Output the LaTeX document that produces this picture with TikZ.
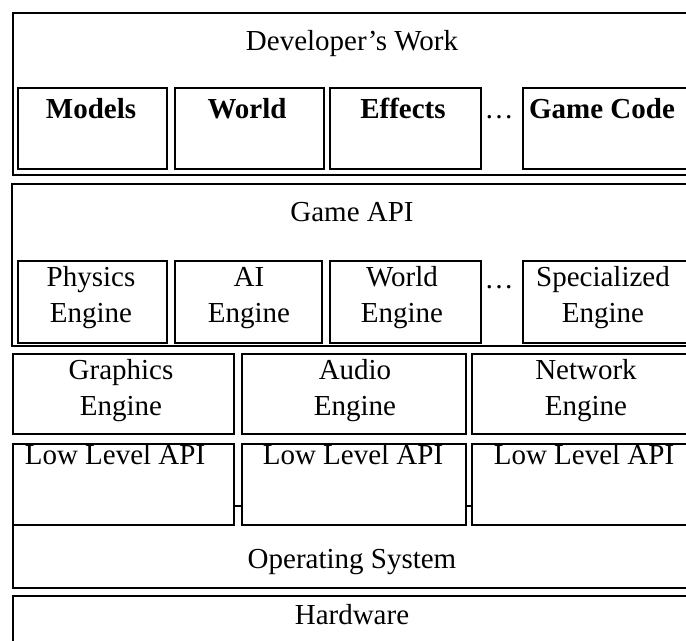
\documentclass[tikz,border=0pt]{standalone}
\usepackage{fontspec}
\setmainfont{Liberation Serif}
\usepackage{tikz}
\usetikzlibrary{positioning}

\begin{document}
\begin{tikzpicture}[
    x=0.02cm, y=-0.02cm,
    every node/.style={font=\fontsize{16.5}{20.5}\selectfont},
    box/.style={draw, line width=0.9pt, fill=white, inner sep=0pt, anchor=north west},
    lbl/.style={anchor=base, inner sep=0pt, align=center}
]
\useasboundingbox (0,0) rectangle (686,641);
\clip (0,0) rectangle (686,641);

% Developer layer
\node[box, minimum width=14cm, minimum height=3.24cm] (dev) at (12,12) {};
\node[lbl] (devtxt) at (352,51) {Developer's Work};
\node[box, minimum width=2.98cm, minimum height=1.62cm] (models) at (17,87) {};
\node[box, minimum width=2.98cm, minimum height=1.62cm] (world) at (174,87) {};
\node[box, minimum width=3.02cm, minimum height=1.62cm] (effects) at (329,87) {};
\node[box, minimum width=3.6cm, minimum height=1.62cm] (gamecode) at (522,87) {};
\node[lbl, font=\fontsize{16.5}{20.5}\selectfont\bfseries] (modelstxt) at (91,119) {Models};
\node[lbl, font=\fontsize{16.5}{20.5}\selectfont\bfseries] (worldtxt) at (247,119) {World};
\node[lbl, font=\fontsize{16.5}{20.5}\selectfont\bfseries] (effectstxt) at (403,119) {Effects};
\node[lbl] (dotsa) at (499,119) {\dots};
\node[lbl, font=\fontsize{16.5}{20.5}\selectfont\bfseries] (gamecodetxt) at (602,119) {Game Code};

% Game API layer (base anchor sits on the last line)
\node[box, minimum width=14cm, minimum height=3.24cm] (api) at (11,183) {};
\node[lbl] (apitxt) at (352,222) {Game API};
\node[box, minimum width=2.98cm, minimum height=1.64cm] (physics) at (17,260) {};
\node[box, minimum width=2.94cm, minimum height=1.64cm] (ai) at (174,260) {};
\node[box, minimum width=3.02cm, minimum height=1.64cm] (worldeng) at (329,260) {};
\node[box, minimum width=3.6cm, minimum height=1.64cm] (special) at (522,260) {};
\node[lbl] (physicstxt) at (91,323) {Physics\\Engine};
\node[lbl] (aitxt) at (249,323) {AI\\Engine};
\node[lbl] (worldengtxt) at (402,323) {World\\Engine};
\node[lbl] (dotsb) at (499,289) {\dots};
\node[lbl] (specialtxt) at (603,323) {Specialized\\Engine};

% Engines
\node[box, minimum width=4.42cm, minimum height=1.6cm] (graphics) at (12,353) {};
\node[box, minimum width=4.48cm, minimum height=1.6cm] (audio) at (241,353) {};
\node[box, minimum width=4.8cm, minimum height=1.6cm] (network) at (471,353) {};
\node[lbl] (graphicstxt) at (121,416) {Graphics\\Engine};
\node[lbl] (audiotxt) at (355,416) {Audio\\Engine};
\node[lbl] (networktxt) at (586,416) {Network\\Engine};

% Operating system and low level APIs
\node[box, minimum width=14cm, minimum height=1.64cm] (os) at (12,505) {};
\node[box, minimum width=4.42cm, minimum height=1.62cm] (lowa) at (12,443) {};
\node[box, minimum width=4.48cm, minimum height=1.62cm] (lowb) at (241,443) {};
\node[box, minimum width=4.8cm, minimum height=1.62cm] (lowc) at (471,443) {};
\node[lbl] (lowatxt) at (115,464) {Low Level API};
\node[lbl] (lowbtxt) at (353,464) {Low Level API};
\node[lbl] (lowctxt) at (584,464) {Low Level API};
\node[lbl] (ostxt) at (352,568) {Operating System};

% Hardware
\node[box, minimum width=14cm, minimum height=1.6cm] (hw) at (12,595) {};
\node[lbl] (hwtxt) at (352,624) {Hardware};

\end{tikzpicture}
\end{document}
